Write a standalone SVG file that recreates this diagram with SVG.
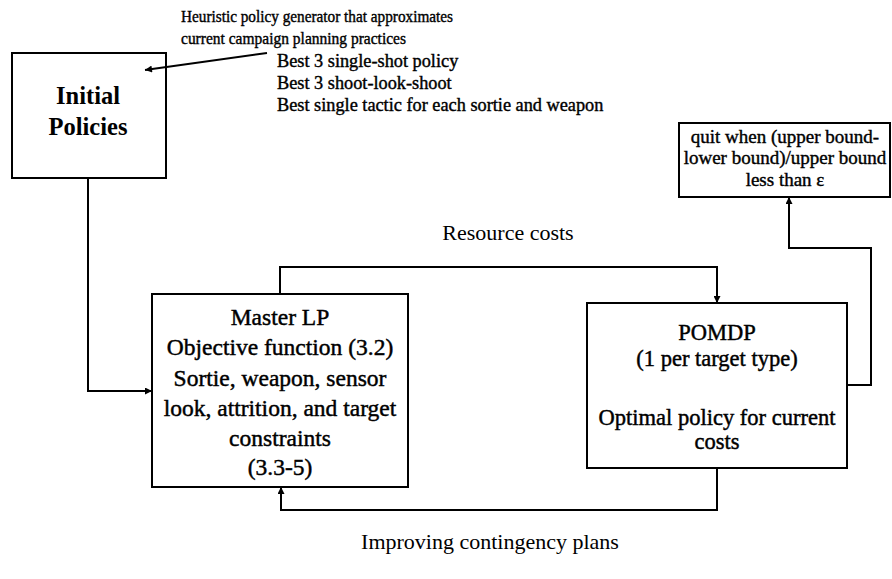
<svg xmlns="http://www.w3.org/2000/svg" width="892" height="579" viewBox="0 0 892 579">
  <defs>
    <marker id="arrow" viewBox="0 0 10 10" refX="10" refY="5" markerWidth="10" markerHeight="7" markerUnits="userSpaceOnUse" orient="auto">
      <path d="M0,0 L10,5 L0,10 z" fill="#000"/>
    </marker>
    <style>
      .box { fill: #fff; stroke: #000; stroke-width: 2; }
      .wire { fill: none; stroke: #000; stroke-width: 2; marker-end: url(#arrow); }
      text { font-family: "Liberation Serif", "Times New Roman", serif; fill: #000; }
      .big { font-size: 22.5px; text-anchor: middle; stroke: #000; stroke-width: 0.45; }
      .lp { font-size: 23.5px; }
      .head { font-size: 24.5px; text-anchor: middle; font-weight: bold; }
      .note { font-size: 17px; stroke: #000; stroke-width: 0.4; }
      .tactic { font-size: 18.3px; stroke: #000; stroke-width: 0.4; }
      .quit { font-size: 19px; text-anchor: middle; stroke: #000; stroke-width: 0.4; }
      .label { font-size: 22px; text-anchor: middle; }
    </style>
  </defs>

  <!-- heuristic policy note -->
  <g id="note">
    <text class="note" x="181" y="22" textLength="272" lengthAdjust="spacingAndGlyphs">Heuristic policy generator that approximates</text>
    <text class="note" x="181" y="44" textLength="225" lengthAdjust="spacingAndGlyphs">current campaign planning practices</text>
    <text class="tactic" x="277" y="67">Best 3 single-shot policy</text>
    <text class="tactic" x="277" y="89">Best 3 shoot-look-shoot</text>
    <text class="tactic" x="277" y="111">Best single tactic for each sortie and weapon</text>
  </g>

  <g id="initial-policies">
    <rect class="box" x="12" y="53" width="154" height="125"/>
    <text class="head" x="88" y="104">Initial</text>
    <text class="head" x="88" y="135">Policies</text>
  </g>

  <g id="quit">
    <rect class="box" x="679" y="123" width="211" height="74"/>
    <text class="quit" x="785" y="143">quit when (upper bound-</text>
    <text class="quit" x="785" y="164">lower bound)/upper bound</text>
    <text class="quit" x="785" y="186">less than ε</text>
  </g>

  <g id="master-lp">
    <rect class="box" x="152" y="294" width="256" height="193"/>
    <text class="big lp" x="280" y="325">Master LP</text>
    <text class="big lp" x="280" y="355">Objective function (3.2)</text>
    <text class="big lp" x="280" y="386">Sortie, weapon, sensor</text>
    <text class="big lp" x="280" y="416">look, attrition, and target</text>
    <text class="big lp" x="280" y="446">constraints</text>
    <text class="big lp" x="280" y="475">(3.3-5)</text>
  </g>

  <g id="pomdp">
    <rect class="box" x="587" y="303" width="260" height="165"/>
    <text class="big" x="717" y="340">POMDP</text>
    <text class="big" x="717" y="366">(1 per target type)</text>
    <text class="big" x="717" y="425">Optimal policy for current</text>
    <text class="big" x="717" y="449">costs</text>
  </g>

  <g id="labels">
    <text class="label" x="508" y="240">Resource costs</text>
    <text class="label" x="490" y="549" font-size="23.5">Improving contingency plans</text>
  </g>

  <!-- connectors -->
  <g id="connectors">
    <path class="wire" d="M267,53 L145,70"/>
    <path class="wire" d="M88,178 V391 H152"/>
    <path class="wire" d="M280,294 V267 H717 V303"/>
    <path class="wire" d="M717,468 V510 H281 V487"/>
    <path class="wire" d="M847,385 H871 V248 H789 V197"/>
  </g>
</svg>
